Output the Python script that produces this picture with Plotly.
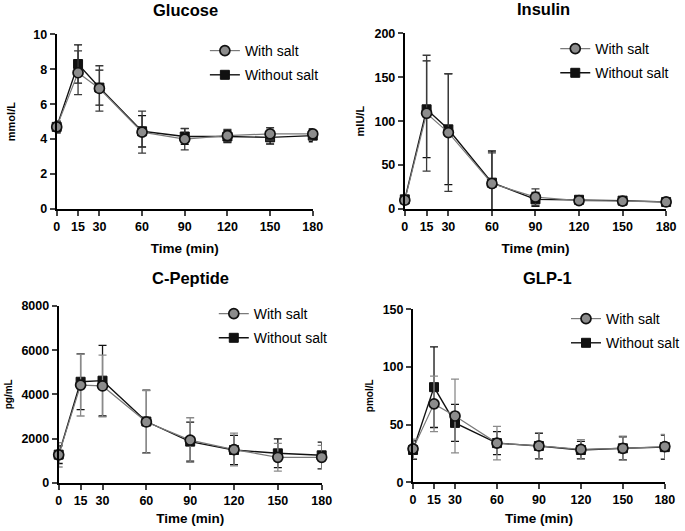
import plotly.graph_objects as go

time = [0, 15, 30, 60, 90, 120, 150, 180]
x_ticks = [0, 15, 30, 60, 90, 120, 150, 180]

glucose_with = [4.7, 7.8, 6.9, 4.4, 4.0, 4.2, 4.3, 4.3]
glucose_with_sd = [0.35, 1.25, 1.3, 1.2, 0.62, 0.35, 0.35, 0.3]
glucose_without = [4.7, 8.3, 6.95, 4.45, 4.15, 4.15, 4.1, 4.2]
glucose_without_sd = [0.3, 1.1, 1.0, 0.9, 0.45, 0.35, 0.38, 0.35]

insulin_with = [10, 109, 87, 29, 13.5, 9.5, 9, 8]
insulin_with_sd = [4, 66, 67, 35, 9.5, 3, 3, 2]
insulin_without = [11, 113.5, 90.7, 30, 11, 10.5, 9.5, 8]
insulin_without_sd = [4, 55, 63, 36, 8, 3, 3, 2]

cpep_with = [1260, 4420, 4380, 2750, 1930, 1500, 1150, 1150]
cpep_with_sd = [550, 1400, 1400, 1420, 1010, 740, 630, 540]
cpep_without = [1270, 4570, 4620, 2770, 1860, 1480, 1330, 1240]
cpep_without_sd = [400, 1260, 1600, 1420, 880, 660, 650, 600]

glp_with = [29, 68, 57.5, 34, 31.5, 28.5, 29.5, 31]
glp_with_sd = [8.5, 24, 32, 14.5, 11.5, 8.5, 10.5, 10.5]
glp_without = [28, 82.5, 51.5, 34, 31.5, 28, 29.5, 30.5]
glp_without_sd = [8, 35, 16, 10, 11, 7.5, 10, 10.5]

titles = ["Glucose", "Insulin", "C-Peptide", "GLP-1"]
units = ["mmol/L", "mIU/L", "pg/mL", "pmol/L"]
y_ticks = [[0, 2, 4, 6, 8, 10], [0, 50, 100, 150, 200],
           [0, 2000, 4000, 6000, 8000], [0, 50, 100, 150]]

W, H = 685, 531
FONT = "Liberation Sans, Arial, sans-serif"

# pixel boxes of plot areas: (x0, x1, ytop, ybottom)
boxes = [(57.3, 316, 34.3, 209), (409, 673, 33.3, 209),
         (59.3, 325, 306, 482.7), (417.3, 671.7, 309.3, 482.3)]
title_pos = [(187, 10), (549, 9), (192, 278), (553, 278)]
legend_pos = [(249, 46), (603, 44), (258, 309), (614, 314)]
ystand = [15, 8, 7, 7]
yfont = [11, 11, 10, 10]
xstand = [11, 11, 7, 7]

panels = [
    (glucose_with, glucose_with_sd, glucose_without, glucose_without_sd),
    (insulin_with, insulin_with_sd, insulin_without, insulin_without_sd),
    (cpep_with, cpep_with_sd, cpep_without, cpep_without_sd),
    (glp_with, glp_with_sd, glp_without, glp_without_sd),
]

fig = go.Figure()
layout = dict(width=W, height=H, margin=dict(l=0, r=0, t=0, b=0),
              paper_bgcolor="white", plot_bgcolor="white", showlegend=True,
              font=dict(family=FONT, color="black"))
annotations = []

for i, (yw, yws, yo, yos) in enumerate(panels):
    n = "" if i == 0 else str(i + 1)
    lg = "legend" if i == 0 else "legend" + str(i + 1)
    top = i < 2
    wcol_err = "#3a3a3a" if top else "#8a8a8a"
    fig.add_trace(go.Scatter(
        x=time, y=yo, name="Without salt", mode="lines+markers",
        xaxis="x" + n, yaxis="y" + n, legend=lg, legendgroup="wo" + n,
        legendrank=2, cliponaxis=False,
        line=dict(color="#111111", width=1.4),
        marker=dict(symbol="square", size=9, color="#111111",
                    line=dict(color="#111111", width=1)),
        error_y=dict(type="data", array=yos, color="#111111", thickness=1.3, width=4),
    ))
    fig.add_trace(go.Scatter(
        x=time, y=yw, name="With salt", mode="lines+markers",
        xaxis="x" + n, yaxis="y" + n, legend=lg, legendgroup="w" + n,
        legendrank=1, cliponaxis=False,
        line=dict(color="#7a7a7a", width=1.2),
        marker=dict(symbol="circle", size=10, color="#8c8c8c",
                    line=dict(color="#111111", width=1.7)),
        error_y=dict(type="data", array=yws, color=wcol_err, thickness=1.3, width=4),
    ))
    x0, x1, yt, yb = boxes[i]
    layout["xaxis" + n] = dict(
        domain=[x0 / W, x1 / W], anchor="y" + n, range=[0, 180],
        tickvals=x_ticks, ticks="outside", ticklen=5, tickwidth=2,
        showline=True, linewidth=2, linecolor="black", showgrid=False,
        zeroline=False, automargin=False,
        tickfont=dict(family=FONT, size=12.5, color="black", weight="bold"),
        title=dict(text="Time (min)", standoff=xstand[i],
                   font=dict(family=FONT, size=13.5, color="black", weight="bold")),
    )
    layout["yaxis" + n] = dict(
        domain=[1 - yb / H, 1 - yt / H], anchor="x" + n,
        range=[0, y_ticks[i][-1]], tickvals=y_ticks[i], ticks="outside",
        ticklen=5, tickwidth=2, showline=True, linewidth=2, linecolor="black",
        showgrid=False, zeroline=False, automargin=False,
        tickfont=dict(family=FONT, size=12.5, color="black", weight="bold"),
        title=dict(text=units[i], standoff=ystand[i],
                   font=dict(family=FONT, size=yfont[i], color="black", weight="bold")),
    )
    lx, ly = legend_pos[i]
    layout[lg] = dict(
        x=(lx - 42) / W, y=1 - (ly - 11) / H, xanchor="left", yanchor="top",
        bgcolor="rgba(0,0,0,0)", traceorder="grouped", tracegroupgap=3,
        font=dict(family=FONT, size=14, color="black"),
    )
    tx, ty = title_pos[i]
    annotations.append(dict(
        text=titles[i], x=tx / W, y=1 - ty / H, xref="paper", yref="paper",
        showarrow=False, xanchor="center", yanchor="middle",
        font=dict(family=FONT, size=16.5, color="black", weight="bold")))

layout["annotations"] = annotations
fig.update_layout(**layout)
fig.write_html("out.html")
